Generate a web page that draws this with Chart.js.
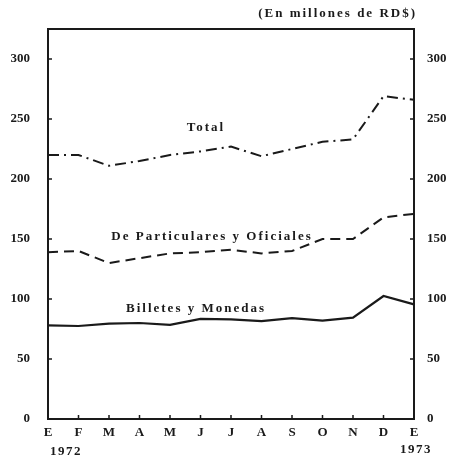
<!DOCTYPE html>
<html>
<head>
<meta charset="utf-8">
<script src="https://cdn.jsdelivr.net/npm/chart.js@4/dist/chart.umd.min.js"></script>
<style>
  html, body { margin: 0; padding: 0; background: #fff; }
  #wrap { width: 449px; height: 460px; }
</style>
</head>
<body>
<div id="wrap"><canvas id="chart" width="449" height="460"></canvas></div>
<script>
// meses ene 1972 - ene 1973
const meses = ['E', 'F', 'M', 'A', 'M', 'J', 'J', 'A', 'S', 'O', 'N', 'D', 'E'];
const anios = ['1972', '1973'];
const total = [220, 220, 211, 215, 220, 223, 227, 219, 225, 231, 233, 269, 266];
const particulares = [139, 140, 130, 134, 138, 139, 141, 138, 140, 150, 150, 168, 171];
const billetes = [78, 77.5, 79.5, 80, 78.5, 83.5, 83, 81.5, 84, 82, 84.5, 102.5, 95.5];
const yTicks = [0, 50, 100, 150, 200, 250, 300];

const serif = '"Liberation Serif", "DejaVu Serif", serif';
const ink = '#1a1a1a';

// caja, marcas interiores y textos sobre el grafico
const extras = {
  id: 'extras',
  afterDraw(chart) {
    const ctx = chart.ctx;
    const a = chart.chartArea;
    const x = chart.scales.x, y = chart.scales.y;
    ctx.save();
    ctx.strokeStyle = ink;
    ctx.lineWidth = 2;
    ctx.strokeRect(a.left, a.top, a.right - a.left, a.bottom - a.top);

    ctx.lineWidth = 1.5;
    ctx.beginPath();
    yTicks.forEach(v => {
      const py = y.getPixelForValue(v);
      ctx.moveTo(a.left, py); ctx.lineTo(a.left + 4, py);
      ctx.moveTo(a.right, py); ctx.lineTo(a.right - 4, py);
    });
    meses.forEach((m, i) => {
      const px = x.getPixelForValue(i);
      ctx.moveTo(px, a.bottom); ctx.lineTo(px, a.bottom - 4);
    });
    ctx.stroke();

    ctx.fillStyle = ink;
    ctx.font = 'bold 13px ' + serif;
    ctx.letterSpacing = '2px';
    ctx.textBaseline = 'middle';
    ctx.textAlign = 'right';
    ctx.fillText('(En millones de RD$)', a.right + 3, 14);

    ctx.textAlign = 'center';
    ctx.fillText('Total', 206, 128);
    ctx.fillText('De Particulares y Oficiales', 212, 237);
    ctx.fillText('Billetes y Monedas', 196, 309);

    ctx.letterSpacing = '1.5px';
    ctx.textAlign = 'left';
    ctx.fillText(anios[0], x.getPixelForValue(0) + 2, 452);
    ctx.textAlign = 'center';
    ctx.fillText(anios[1], x.getPixelForValue(12) + 2, 450);
    ctx.restore();
  }
};

const yAxis = (pos, width) => ({
  type: 'linear',
  position: pos,
  min: 0,
  max: 325,
  grid: { display: false },
  border: { display: false },
  ticks: {
    stepSize: 50,
    includeBounds: false,
    padding: pos === 'left' ? 10 : 5,
    color: ink,
    font: { family: serif, size: 13, weight: 'bold' },
    callback: v => (v % 50 === 0 ? v : '')
  },
  afterFit(s) { s.width = width; }
});

new Chart(document.getElementById('chart'), {
  type: 'line',
  data: {
    labels: meses,
    datasets: [
      {
        label: 'Total',
        data: total,
        borderColor: ink,
        borderWidth: 2,
        borderDash: [11, 5, 2, 5],
        pointRadius: 0,
        tension: 0
      },
      {
        label: 'De Particulares y Oficiales',
        data: particulares,
        borderColor: ink,
        borderWidth: 2,
        borderDash: [10, 6],
        pointRadius: 0,
        tension: 0
      },
      {
        label: 'Billetes y Monedas',
        data: billetes,
        borderColor: ink,
        borderWidth: 2.2,
        pointRadius: 0,
        tension: 0
      }
    ]
  },
  options: {
    responsive: false,
    animation: false,
    layout: { padding: { top: 29, left: 0, right: 0, bottom: 0 } },
    plugins: {
      legend: { display: false },
      tooltip: { enabled: false }
    },
    scales: {
      x: {
        offset: false,
        grid: { display: false },
        border: { display: false },
        ticks: {
          padding: -2,
          color: ink,
          maxRotation: 0,
          autoSkip: false,
          font: { family: serif, size: 13, weight: 'bold' }
        },
        afterFit(s) { s.height = 41; }
      },
      y: yAxis('left', 48),
      y2: yAxis('right', 35)
    }
  },
  plugins: [extras]
});
</script>
</body>
</html>
